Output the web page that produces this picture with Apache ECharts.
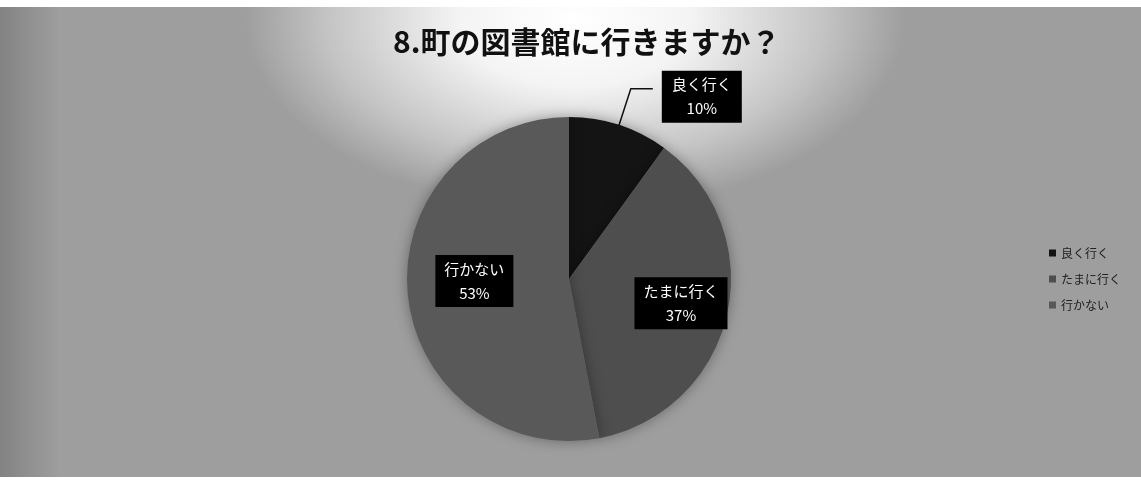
<!DOCTYPE html>
<html>
<head>
<meta charset="utf-8">
<script src="https://cdn.jsdelivr.net/npm/echarts@6/dist/echarts.min.js"></script>
<style>
  html, body { margin: 0; padding: 0; background: #fff; }
  #chart {
    width: 1141px;
    height: 483px;
    background:
      linear-gradient(to bottom, #fff 0, #fff 7px, rgba(255,255,255,0) 7px, rgba(255,255,255,0) 477px, #fff 477px),
      linear-gradient(to right, rgba(80,80,80,0.35) 0, rgba(80,80,80,0) 60px),
      radial-gradient(ellipse 330px 190px at 575px 20px, #ffffff 0%, #f4f4f4 35%, #c4c4c4 75%, rgba(160,160,160,0) 100%),
      #9e9e9e;
  }
</style>
</head>
<body>
<div id="chart"></div>
<script>
// 町の図書館に行きますか？ 回答割合 (%)
const categories = ["良く行く", "たまに行く", "行かない"];
const values = [10, 37, 53];
const sliceColors = ["#141414", "#4e4e4e", "#595959"];

const chart = echarts.init(document.getElementById("chart"));

const pieData = categories.map((name, i) => ({
  name: name,
  value: values[i],
  itemStyle: { color: sliceColors[i] },
}));
// 良く行く だけ外側ラベル + 引き出し線
pieData[0].label = {
  position: "outside",
  formatter: "{c|{b}}\n{c|{d}%}",
  rich: { c: { width: 62, align: "center" } },
};
pieData[0].labelLine = { show: true, length: 38, length2: 22 };

// ラベル位置の微調整 (Excel の配置に合わせる)
const labelShift = [
  { dx: 4, dy: 8 },
  { dx: 30, dy: 6 },
  { dx: -11, dy: -6 },
];

const option = {
  backgroundColor: "transparent",
  title: {
    text: "8.町の図書館に行きますか？",
    left: 388,
    top: 22,
    textStyle: {
      fontFamily: "Noto Sans CJK JP",
      fontSize: 30,
      fontWeight: "bold",
      color: "#111",
    },
  },
  legend: {
    orient: "vertical",
    left: 1044,
    top: 242,
    itemWidth: 7,
    itemHeight: 7,
    itemGap: 14,
    icon: "rect",
    textStyle: {
      fontFamily: "Noto Sans CJK JP",
      fontSize: 12,
      color: "#222",
    },
    data: categories,
  },
  series: [
    {
      name: "回答",
      type: "pie",
      center: [569, 279],
      radius: 162,
      startAngle: 90,
      clockwise: true,
      avoidLabelOverlap: false,
      itemStyle: {
        shadowBlur: 14,
        shadowColor: "rgba(0,0,0,0.35)",
      },
      label: {
        show: true,
        position: "inside",
        formatter: "{b}\n{d}%",
        color: "#fff",
        fontFamily: "Noto Sans CJK JP",
        fontSize: 15,
        lineHeight: 24,
        backgroundColor: "#000",
        padding: [2, 9, 2, 9],
        align: "center",
      },
      labelLine: {
        lineStyle: { color: "#111", width: 1.5 },
      },
      labelLayout: (params) => labelShift[params.dataIndex],
      emphasis: { disabled: true },
      data: pieData,
    },
  ],
};

chart.setOption(option);
</script>
</body>
</html>
